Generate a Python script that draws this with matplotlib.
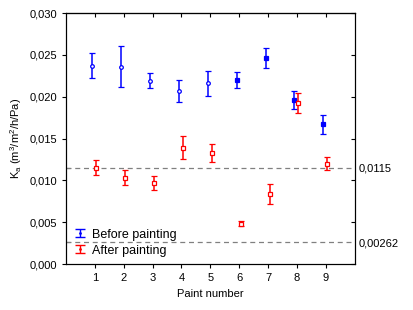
import matplotlib

matplotlib.use("Agg")
import matplotlib.pyplot as plt
from matplotlib.legend_handler import HandlerErrorbar
from matplotlib.ticker import FuncFormatter

plt.rcParams["font.family"] = ["Liberation Sans", "DejaVu Sans"]
plt.rcParams["font.size"] = 8
plt.rcParams["mathtext.fontset"] = "custom"
plt.rcParams["mathtext.rm"] = "Liberation Sans"
plt.rcParams["mathtext.it"] = "Liberation Sans"

paints = [1, 2, 3, 4, 5, 6, 7, 8, 9]
before = [0.0237, 0.0236, 0.0219, 0.0207, 0.0216, 0.0220, 0.0246, 0.0196, 0.0167]
before_err = [0.0015, 0.0024, 0.0009, 0.0013, 0.0015, 0.0010, 0.0012, 0.0011, 0.0011]
after = [0.0115, 0.0103, 0.0097, 0.0139, 0.0133, 0.0048, 0.0084, 0.0192, 0.0120]
after_err = [0.0009, 0.0009, 0.0008, 0.0014, 0.0011, 0.0003, 0.0012, 0.0012, 0.0008]
ref_lines = [0.0115, 0.00262]
ref_labels = ["0,0115", "0,00262"]

fig = plt.figure(figsize=(4.14, 3.10), dpi=100)
ax = fig.add_axes([0.159, 0.148, 0.698, 0.810])

for y in ref_lines:
    ax.axhline(y, color="#808080", linestyle="--", linewidth=0.9, dashes=(4, 3))

style = dict(ms=2.6, mew=0.9, capsize=2.5, elinewidth=1.1, capthick=1.1)
xb = [p - 0.09 for p in paints]
xa = [p + 0.05 for p in paints]
ax.errorbar(xb[:5], before[:5], yerr=before_err[:5], fmt="o", color="blue", mfc="white", **style)
ax.errorbar(xb[5:], before[5:], yerr=before_err[5:], fmt="s", color="blue", **style)
ax.errorbar(xa, after, yerr=after_err, fmt="s", color="red", mfc="white", **style)

# legend handles (drawn outside the visible range)
hb = ax.errorbar([-5], [0.01], yerr=[0.001], fmt=".", color="blue", ms=2,
                 capsize=3.5, elinewidth=1.0, capthick=1.0)
ha = ax.errorbar([-5], [0.01], yerr=[0.001], fmt=".", color="red", ms=2,
                 capsize=3.5, elinewidth=1.0, capthick=1.0)
hm = HandlerErrorbar(yerr_size=0.32)
ax.legend([hb, ha], ["Before painting", "After painting"], loc="lower left",
          frameon=False, fontsize=9, handlelength=1.0, handletextpad=0.5,
          labelspacing=0.3, borderaxespad=0.2, bbox_to_anchor=(0.0, 0.0),
          handler_map={hb: hm, ha: hm})

ax.set_xlim(0, 10)
ax.set_ylim(0, 0.030)
ax.set_xticks(paints)
ax.set_yticks([0, 0.005, 0.010, 0.015, 0.020, 0.025, 0.030])
ax.yaxis.set_major_formatter(FuncFormatter(lambda v, p: f"{v:.3f}".replace(".", ",")))
ax.set_yticks(ref_lines, minor=True)
ax.tick_params(which="major", direction="out", length=3, width=0.8)
ax.tick_params(which="minor", direction="in", length=3, width=0.8)
ax.set_xlabel("Paint number", fontsize=8)
ax.set_ylabel("K$_a$ (m$^3$/m$^2$/h/Pa)", fontsize=8)

top = ax.secondary_xaxis("top")
top.set_xticks(paints)
top.set_xticklabels([])
top.tick_params(direction="in", length=3, width=0.8)

twin = ax.twinx()
twin.set_ylim(ax.get_ylim())
twin.set_yticks(ref_lines)
twin.set_yticklabels(ref_labels)
twin.set_yticks([0, 0.005, 0.010, 0.015, 0.020, 0.025, 0.030], minor=True)
twin.tick_params(which="major", direction="out", length=0, pad=3)
twin.tick_params(which="minor", direction="in", length=3, width=0.8)

fig.savefig("out.png", dpi=100)
